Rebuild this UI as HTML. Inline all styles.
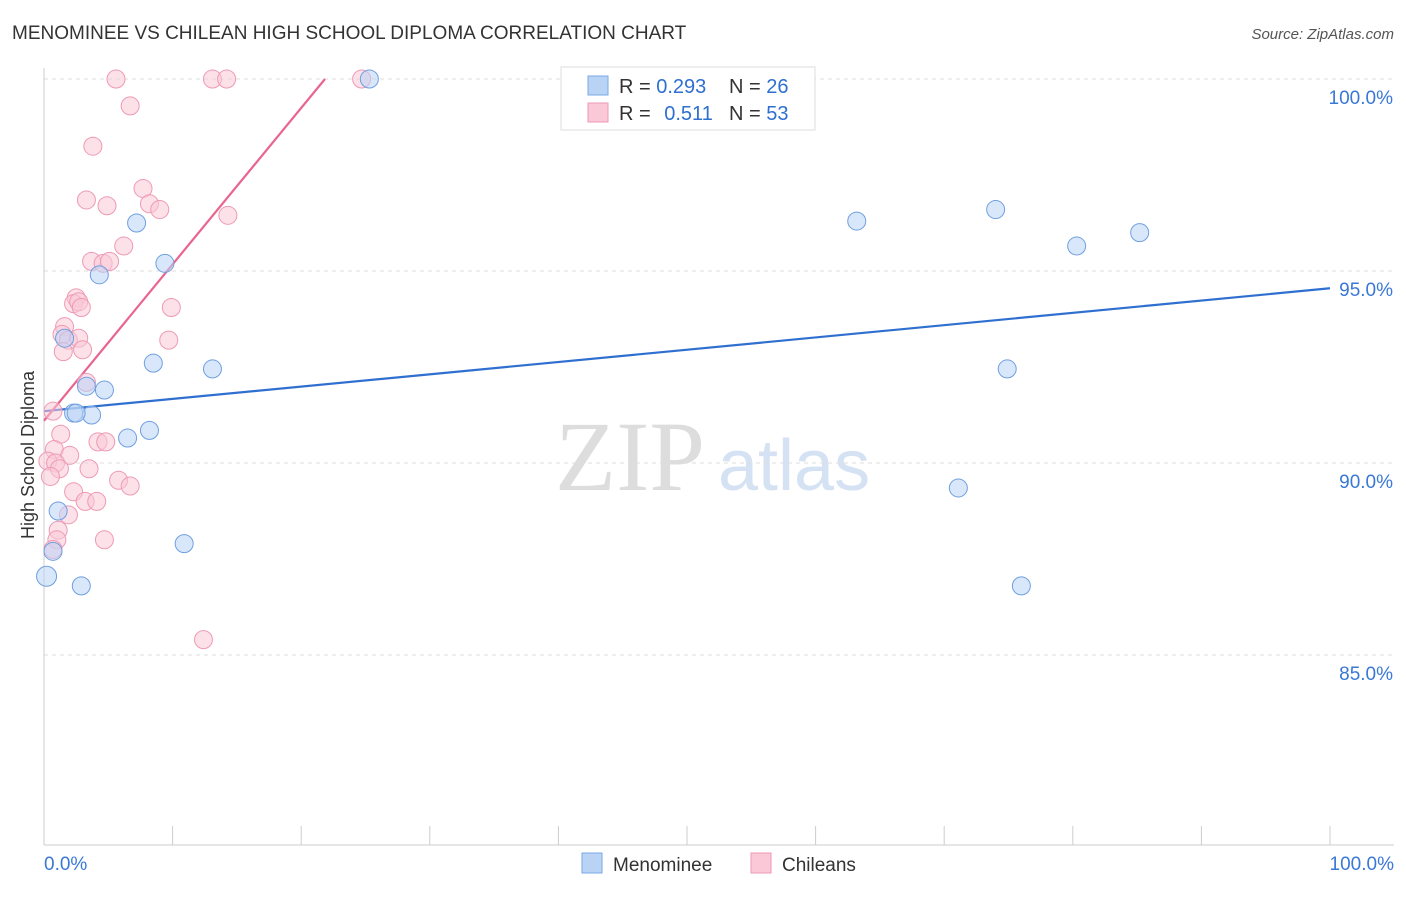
<!DOCTYPE html>
<html><head><meta charset="utf-8"><style>
body{margin:0;background:#fff;font-family:"Liberation Sans",sans-serif;}
</style></head><body>
<svg id="chart" width="1406" height="892" xmlns="http://www.w3.org/2000/svg">
<text x="12" y="39" font-size="19" fill="#333">MENOMINEE VS CHILEAN HIGH SCHOOL DIPLOMA CORRELATION CHART</text>
<text x="1394" y="39" font-size="15" fill="#555" font-style="italic" text-anchor="end">Source: ZipAtlas.com</text>
<text x="34" y="455" font-size="18" fill="#333" text-anchor="middle" transform="rotate(-90 34 455)">High School Diploma</text>
<text x="555" y="490" font-size="100" fill="#ddd" font-family="Liberation Serif,serif">ZIP</text>
<text x="718" y="490" font-size="72" fill="#d5e2f3">atlas</text>
<g id="grid"></g><g id="axes"></g><g id="lines"></g><g id="points"></g>
<g>
<rect x="561" y="67" width="254" height="63" fill="#fff" stroke="#ddd"/>
<rect x="588" y="76" width="20" height="19" fill="#b9d3f5" stroke="#7aa9e6"/>
<rect x="588" y="103" width="20" height="19" fill="#fac8d7" stroke="#ee9ab5"/>
<text x="619" y="93" font-size="20" fill="#333">R = <tspan fill="#2f6fd0">0.293</tspan></text>
<text x="729" y="93" font-size="20" fill="#333">N = <tspan fill="#2f6fd0">26</tspan></text>
<text x="619" y="120" font-size="20" fill="#333">R = <tspan fill="#2f6fd0" dx="8">0.511</tspan></text>
<text x="729" y="120" font-size="20" fill="#333">N = <tspan fill="#2f6fd0">53</tspan></text>
</g>
<g>
<rect x="582" y="853" width="20" height="20" fill="#b9d3f5" stroke="#7aa9e6"/>
<text x="613" y="871" font-size="19" fill="#333">Menominee</text>
<rect x="751" y="853" width="20" height="20" fill="#fac8d7" stroke="#ee9ab5"/>
<text x="782" y="871" font-size="19" fill="#333">Chileans</text>
</g>
</svg>
<script>
const yTicks=[100,95,90,85];
const yTickLabels=["100.0%","95.0%","90.0%","85.0%"];
const xTickLabels=["0.0%","100.0%"];
const blueX=[25.3,7.2,9.4,4.3,1.6,8.5,13.1,3.3,4.7,2.3,3.7,8.2,6.5,1.1,10.9,0.7,0.2,2.9,63.2,74.0,80.3,85.2,74.9,71.1,76.0,2.5];
const blueY=[100,96.25,95.2,94.9,93.25,92.6,92.45,92.0,91.9,91.3,91.25,90.85,90.65,88.75,87.9,87.7,87.05,86.8,96.3,96.6,95.65,96.0,92.45,89.35,86.8,91.3];
const pinkX=[5.6,13.1,14.2,24.7,6.7,3.8,7.7,3.3,4.9,8.2,9.0,14.3,6.2,3.7,4.6,5.1,2.5,2.3,2.7,2.9,9.9,1.6,1.4,1.9,2.7,9.7,1.5,3.0,3.3,0.7,1.3,4.2,4.8,0.8,2.0,0.3,0.9,1.2,3.5,0.5,5.8,6.7,2.3,3.2,4.1,1.9,1.1,1.0,4.7,0.7,12.4];
const pinkY=[100,100,100,100,99.3,98.25,97.15,96.85,96.7,96.75,96.6,96.45,95.65,95.25,95.2,95.25,94.3,94.15,94.2,94.05,94.05,93.55,93.35,93.2,93.25,93.2,92.9,92.95,92.1,91.35,90.75,90.55,90.55,90.35,90.2,90.05,90.0,89.85,89.85,89.65,89.55,89.4,89.25,89.0,89.0,88.65,88.25,88.0,88.0,87.75,85.4];
const blueLine=[[0,91.35],[100,94.55]];
const pinkLine=[[0,91.1],[21.85,100]];
const X0=44,X1=1330,Y100=79,PX5=192;
const sx=v=>X0+(X1-X0)*v/100;
const sy=v=>Y100+(100-v)*PX5/5;
const NS="http://www.w3.org/2000/svg";
function mk(tag,attrs,parent){const e=document.createElementNS(NS,tag);for(const k in attrs)e.setAttribute(k,attrs[k]);parent.appendChild(e);return e;}
const grid=document.getElementById('grid'),axes=document.getElementById('axes'),lines=document.getElementById('lines'),pts=document.getElementById('points');
yTicks.forEach((t,i)=>{
 const l=mk('line',{x1:X0,x2:1394,y1:sy(t),y2:sy(t),stroke:'#ddd','stroke-dasharray':'4 4'},grid);
 
 
 const tx=mk('text',{x:1393,y:sy(t)+25,'font-size':19,fill:'#3a78d6','text-anchor':'end'},axes);
 tx.textContent=yTickLabels[i];
 
 
});
const ya=mk('line',{x1:X0,x2:X0,y1:68,y2:845,stroke:'#ccc'},axes);


const xa=mk('line',{x1:X0,x2:1394,y1:845,y2:845,stroke:'#ccc'},axes);


for(let i=0;i<=10;i++){
 const t=mk('line',{x1:sx(i*10),x2:sx(i*10),y1:826,y2:845,stroke:'#ccc'},axes);
 
 
}
[[0,'start',44],[100,'end',1394]].forEach((a,i)=>{
 const tx=mk('text',{x:a[2],y:870,'font-size':19,fill:'#3a78d6','text-anchor':a[1]},axes);
 tx.textContent=xTickLabels[i];
 
 
});
function drawPts(X,Y,fill,stroke,name){X.forEach((x,i)=>{
 const c=mk('circle',{cx:sx(x),cy:sy(Y[i]),r:(name==='menominee-point'&&i===16)?10:9,fill:fill,stroke:stroke,'stroke-width':1,'fill-opacity':0.55},pts);
 
 
});}
drawPts(pinkX,pinkY,'#fac8d7','#ee9ab5','chileans-point');
drawPts(blueX,blueY,'#b9d3f5','#6f9fe0','menominee-point');
const bl=mk('line',{x1:sx(blueLine[0][0]),y1:sy(blueLine[0][1]),x2:sx(blueLine[1][0]),y2:sy(blueLine[1][1]),stroke:'#2f6fd0','stroke-width':2.2},lines);


const pl=mk('line',{x1:sx(pinkLine[0][0]),y1:sy(pinkLine[0][1]),x2:sx(pinkLine[1][0]),y2:sy(pinkLine[1][1]),stroke:'#e8658f','stroke-width':2.2},lines);


</script>
</body></html>
